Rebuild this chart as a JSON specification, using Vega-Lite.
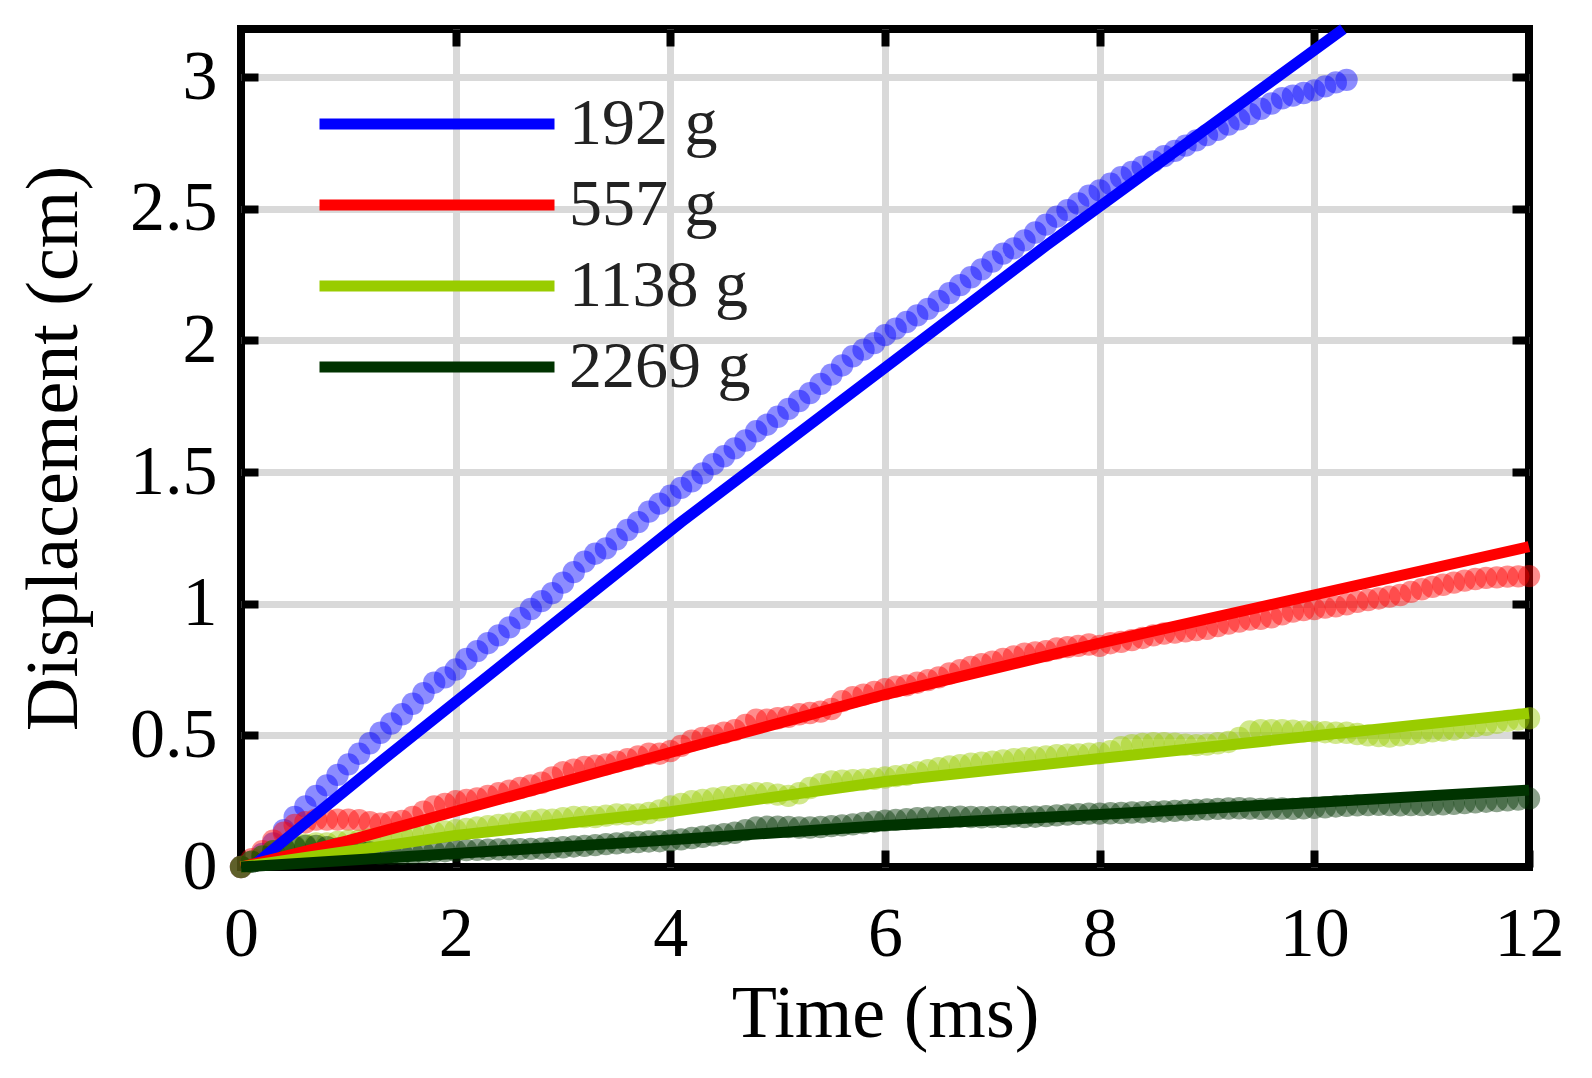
{
  "$schema": "https://vega.github.io/schema/vega-lite/v6.json",
  "width": 1288,
  "height": 838,
  "autosize": {"type": "none"},
  "padding": {"left": 241, "top": 29, "right": 63, "bottom": 211},
  "background": "white",
  "config": {
    "view": {"stroke": "black", "strokeWidth": 8},
    "font": "Liberation Serif",
    "legend": {
      "orient": "none", "legendX": 73, "legendY": 62, "title": null,
      "symbolType": "stroke", "symbolSize": 55225, "symbolStrokeWidth": 11, "symbolOpacity": 1,
      "labelFont": "Liberation Serif", "labelFontSize": 66, "labelColor": "#222222",
      "labelOffset": 9, "labelLimit": 0, "rowPadding": 15, "padding": 0, "clipHeight": 66
    }
  },
  "datasets": {
    "pts": [
      {"m":"192 g","t":0.0,"d":0.0},{"m":"192 g","t":0.1,"d":0.02},{"m":"192 g","t":0.2,"d":0.05},{"m":"192 g","t":0.3,"d":0.09},{"m":"192 g","t":0.4,"d":0.14},{"m":"192 g","t":0.5,"d":0.19},{"m":"192 g","t":0.6,"d":0.23},{"m":"192 g","t":0.7,"d":0.27},{"m":"192 g","t":0.8,"d":0.31},{"m":"192 g","t":0.9,"d":0.35},
      {"m":"192 g","t":1.0,"d":0.39},{"m":"192 g","t":1.1,"d":0.43},{"m":"192 g","t":1.2,"d":0.47},{"m":"192 g","t":1.3,"d":0.51},{"m":"192 g","t":1.4,"d":0.545},{"m":"192 g","t":1.5,"d":0.58},{"m":"192 g","t":1.6,"d":0.62},{"m":"192 g","t":1.7,"d":0.66},{"m":"192 g","t":1.8,"d":0.7},{"m":"192 g","t":1.9,"d":0.72},
      {"m":"192 g","t":2.0,"d":0.75},{"m":"192 g","t":2.1,"d":0.79},{"m":"192 g","t":2.2,"d":0.82},{"m":"192 g","t":2.3,"d":0.85},{"m":"192 g","t":2.4,"d":0.88},{"m":"192 g","t":2.5,"d":0.91},{"m":"192 g","t":2.6,"d":0.945},{"m":"192 g","t":2.7,"d":0.98},{"m":"192 g","t":2.8,"d":1.01},{"m":"192 g","t":2.9,"d":1.04},
      {"m":"192 g","t":3.0,"d":1.08},{"m":"192 g","t":3.1,"d":1.12},{"m":"192 g","t":3.2,"d":1.16},{"m":"192 g","t":3.3,"d":1.19},{"m":"192 g","t":3.4,"d":1.21},{"m":"192 g","t":3.5,"d":1.245},{"m":"192 g","t":3.6,"d":1.28},{"m":"192 g","t":3.7,"d":1.31},{"m":"192 g","t":3.8,"d":1.35},{"m":"192 g","t":3.9,"d":1.38},
      {"m":"192 g","t":4.0,"d":1.41},{"m":"192 g","t":4.1,"d":1.44},{"m":"192 g","t":4.2,"d":1.465},{"m":"192 g","t":4.3,"d":1.495},{"m":"192 g","t":4.4,"d":1.53},{"m":"192 g","t":4.5,"d":1.56},{"m":"192 g","t":4.6,"d":1.59},{"m":"192 g","t":4.7,"d":1.62},{"m":"192 g","t":4.8,"d":1.655},{"m":"192 g","t":4.9,"d":1.68},
      {"m":"192 g","t":5.0,"d":1.71},{"m":"192 g","t":5.1,"d":1.74},{"m":"192 g","t":5.2,"d":1.77},{"m":"192 g","t":5.3,"d":1.8},{"m":"192 g","t":5.4,"d":1.835},{"m":"192 g","t":5.5,"d":1.87},{"m":"192 g","t":5.6,"d":1.905},{"m":"192 g","t":5.7,"d":1.94},{"m":"192 g","t":5.8,"d":1.965},{"m":"192 g","t":5.9,"d":1.99},
      {"m":"192 g","t":6.0,"d":2.02},{"m":"192 g","t":6.1,"d":2.045},{"m":"192 g","t":6.2,"d":2.07},{"m":"192 g","t":6.3,"d":2.095},{"m":"192 g","t":6.4,"d":2.12},{"m":"192 g","t":6.5,"d":2.15},{"m":"192 g","t":6.6,"d":2.18},{"m":"192 g","t":6.7,"d":2.21},{"m":"192 g","t":6.8,"d":2.24},{"m":"192 g","t":6.9,"d":2.27},
      {"m":"192 g","t":7.0,"d":2.3},{"m":"192 g","t":7.1,"d":2.33},{"m":"192 g","t":7.2,"d":2.35},{"m":"192 g","t":7.3,"d":2.38},{"m":"192 g","t":7.4,"d":2.41},{"m":"192 g","t":7.5,"d":2.44},{"m":"192 g","t":7.6,"d":2.47},{"m":"192 g","t":7.7,"d":2.495},{"m":"192 g","t":7.8,"d":2.52},{"m":"192 g","t":7.9,"d":2.55},
      {"m":"192 g","t":8.0,"d":2.57},{"m":"192 g","t":8.1,"d":2.595},{"m":"192 g","t":8.2,"d":2.62},{"m":"192 g","t":8.3,"d":2.64},{"m":"192 g","t":8.4,"d":2.66},{"m":"192 g","t":8.5,"d":2.68},{"m":"192 g","t":8.6,"d":2.7},{"m":"192 g","t":8.7,"d":2.72},{"m":"192 g","t":8.8,"d":2.74},{"m":"192 g","t":8.9,"d":2.76},
      {"m":"192 g","t":9.0,"d":2.78},{"m":"192 g","t":9.1,"d":2.8},{"m":"192 g","t":9.2,"d":2.82},{"m":"192 g","t":9.3,"d":2.84},{"m":"192 g","t":9.4,"d":2.86},{"m":"192 g","t":9.5,"d":2.88},{"m":"192 g","t":9.6,"d":2.9},{"m":"192 g","t":9.7,"d":2.92},{"m":"192 g","t":9.8,"d":2.93},{"m":"192 g","t":9.9,"d":2.94},
      {"m":"192 g","t":10.0,"d":2.95},{"m":"192 g","t":10.1,"d":2.965},{"m":"192 g","t":10.2,"d":2.98},{"m":"192 g","t":10.3,"d":2.99},

      {"m":"557 g","t":0.0,"d":0.0},{"m":"557 g","t":0.1,"d":0.03},{"m":"557 g","t":0.2,"d":0.06},{"m":"557 g","t":0.3,"d":0.1},{"m":"557 g","t":0.4,"d":0.13},{"m":"557 g","t":0.5,"d":0.16},{"m":"557 g","t":0.6,"d":0.17},{"m":"557 g","t":0.7,"d":0.18},{"m":"557 g","t":0.8,"d":0.18},{"m":"557 g","t":0.9,"d":0.18},
      {"m":"557 g","t":1.0,"d":0.18},{"m":"557 g","t":1.1,"d":0.178},{"m":"557 g","t":1.2,"d":0.17},{"m":"557 g","t":1.3,"d":0.165},{"m":"557 g","t":1.4,"d":0.17},{"m":"557 g","t":1.5,"d":0.175},{"m":"557 g","t":1.6,"d":0.19},{"m":"557 g","t":1.7,"d":0.21},{"m":"557 g","t":1.8,"d":0.23},{"m":"557 g","t":1.9,"d":0.24},
      {"m":"557 g","t":2.0,"d":0.25},{"m":"557 g","t":2.1,"d":0.255},{"m":"557 g","t":2.2,"d":0.26},{"m":"557 g","t":2.3,"d":0.27},{"m":"557 g","t":2.4,"d":0.28},{"m":"557 g","t":2.5,"d":0.29},{"m":"557 g","t":2.6,"d":0.3},{"m":"557 g","t":2.7,"d":0.31},{"m":"557 g","t":2.8,"d":0.32},{"m":"557 g","t":2.9,"d":0.34},
      {"m":"557 g","t":3.0,"d":0.36},{"m":"557 g","t":3.1,"d":0.37},{"m":"557 g","t":3.2,"d":0.38},{"m":"557 g","t":3.3,"d":0.385},{"m":"557 g","t":3.4,"d":0.39},{"m":"557 g","t":3.5,"d":0.4},{"m":"557 g","t":3.6,"d":0.41},{"m":"557 g","t":3.7,"d":0.42},{"m":"557 g","t":3.8,"d":0.43},{"m":"557 g","t":3.9,"d":0.43},
      {"m":"557 g","t":4.0,"d":0.44},{"m":"557 g","t":4.1,"d":0.46},{"m":"557 g","t":4.2,"d":0.48},{"m":"557 g","t":4.3,"d":0.49},{"m":"557 g","t":4.4,"d":0.5},{"m":"557 g","t":4.5,"d":0.51},{"m":"557 g","t":4.6,"d":0.52},{"m":"557 g","t":4.7,"d":0.54},{"m":"557 g","t":4.8,"d":0.56},{"m":"557 g","t":4.9,"d":0.56},
      {"m":"557 g","t":5.0,"d":0.565},{"m":"557 g","t":5.1,"d":0.57},{"m":"557 g","t":5.2,"d":0.58},{"m":"557 g","t":5.3,"d":0.585},{"m":"557 g","t":5.4,"d":0.59},{"m":"557 g","t":5.5,"d":0.6},{"m":"557 g","t":5.6,"d":0.63},{"m":"557 g","t":5.7,"d":0.645},{"m":"557 g","t":5.8,"d":0.655},{"m":"557 g","t":5.9,"d":0.665},
      {"m":"557 g","t":6.0,"d":0.675},{"m":"557 g","t":6.1,"d":0.685},{"m":"557 g","t":6.2,"d":0.69},{"m":"557 g","t":6.3,"d":0.7},{"m":"557 g","t":6.4,"d":0.71},{"m":"557 g","t":6.5,"d":0.72},{"m":"557 g","t":6.6,"d":0.735},{"m":"557 g","t":6.7,"d":0.748},{"m":"557 g","t":6.8,"d":0.76},{"m":"557 g","t":6.9,"d":0.77},
      {"m":"557 g","t":7.0,"d":0.78},{"m":"557 g","t":7.1,"d":0.79},{"m":"557 g","t":7.2,"d":0.8},{"m":"557 g","t":7.3,"d":0.81},{"m":"557 g","t":7.4,"d":0.815},{"m":"557 g","t":7.5,"d":0.82},{"m":"557 g","t":7.6,"d":0.83},{"m":"557 g","t":7.7,"d":0.835},{"m":"557 g","t":7.8,"d":0.84},{"m":"557 g","t":7.9,"d":0.845},
      {"m":"557 g","t":8.0,"d":0.84},{"m":"557 g","t":8.1,"d":0.85},{"m":"557 g","t":8.2,"d":0.855},{"m":"557 g","t":8.3,"d":0.862},{"m":"557 g","t":8.4,"d":0.87},{"m":"557 g","t":8.5,"d":0.88},{"m":"557 g","t":8.6,"d":0.887},{"m":"557 g","t":8.7,"d":0.89},{"m":"557 g","t":8.8,"d":0.895},{"m":"557 g","t":8.9,"d":0.9},
      {"m":"557 g","t":9.0,"d":0.905},{"m":"557 g","t":9.1,"d":0.915},{"m":"557 g","t":9.2,"d":0.925},{"m":"557 g","t":9.3,"d":0.932},{"m":"557 g","t":9.4,"d":0.94},{"m":"557 g","t":9.5,"d":0.943},{"m":"557 g","t":9.6,"d":0.948},{"m":"557 g","t":9.7,"d":0.96},{"m":"557 g","t":9.8,"d":0.97},{"m":"557 g","t":9.9,"d":0.976},
      {"m":"557 g","t":10.0,"d":0.98},{"m":"557 g","t":10.1,"d":0.985},{"m":"557 g","t":10.2,"d":0.99},{"m":"557 g","t":10.3,"d":0.998},{"m":"557 g","t":10.4,"d":1.007},{"m":"557 g","t":10.5,"d":1.014},{"m":"557 g","t":10.6,"d":1.02},{"m":"557 g","t":10.7,"d":1.027},{"m":"557 g","t":10.8,"d":1.033},{"m":"557 g","t":10.9,"d":1.045},
      {"m":"557 g","t":11.0,"d":1.055},{"m":"557 g","t":11.1,"d":1.064},{"m":"557 g","t":11.2,"d":1.072},{"m":"557 g","t":11.3,"d":1.08},{"m":"557 g","t":11.4,"d":1.088},{"m":"557 g","t":11.5,"d":1.094},{"m":"557 g","t":11.6,"d":1.098},{"m":"557 g","t":11.7,"d":1.1},{"m":"557 g","t":11.8,"d":1.103},{"m":"557 g","t":11.9,"d":1.104},{"m":"557 g","t":12.0,"d":1.105},

      {"m":"1138 g","t":0.0,"d":0.0},{"m":"1138 g","t":0.1,"d":0.02},{"m":"1138 g","t":0.2,"d":0.04},{"m":"1138 g","t":0.3,"d":0.06},{"m":"1138 g","t":0.4,"d":0.07},{"m":"1138 g","t":0.5,"d":0.08},{"m":"1138 g","t":0.6,"d":0.085},{"m":"1138 g","t":0.7,"d":0.09},{"m":"1138 g","t":0.8,"d":0.09},{"m":"1138 g","t":0.9,"d":0.095},
      {"m":"1138 g","t":1.0,"d":0.1},{"m":"1138 g","t":1.1,"d":0.1},{"m":"1138 g","t":1.2,"d":0.105},{"m":"1138 g","t":1.3,"d":0.11},{"m":"1138 g","t":1.4,"d":0.115},{"m":"1138 g","t":1.5,"d":0.12},{"m":"1138 g","t":1.6,"d":0.122},{"m":"1138 g","t":1.7,"d":0.125},{"m":"1138 g","t":1.8,"d":0.13},{"m":"1138 g","t":1.9,"d":0.135},
      {"m":"1138 g","t":2.0,"d":0.14},{"m":"1138 g","t":2.1,"d":0.145},{"m":"1138 g","t":2.2,"d":0.15},{"m":"1138 g","t":2.3,"d":0.155},{"m":"1138 g","t":2.4,"d":0.16},{"m":"1138 g","t":2.5,"d":0.165},{"m":"1138 g","t":2.6,"d":0.17},{"m":"1138 g","t":2.7,"d":0.175},{"m":"1138 g","t":2.8,"d":0.18},{"m":"1138 g","t":2.9,"d":0.18},
      {"m":"1138 g","t":3.0,"d":0.185},{"m":"1138 g","t":3.1,"d":0.19},{"m":"1138 g","t":3.2,"d":0.19},{"m":"1138 g","t":3.3,"d":0.19},{"m":"1138 g","t":3.4,"d":0.195},{"m":"1138 g","t":3.5,"d":0.2},{"m":"1138 g","t":3.6,"d":0.2},{"m":"1138 g","t":3.7,"d":0.2},{"m":"1138 g","t":3.8,"d":0.205},{"m":"1138 g","t":3.9,"d":0.215},
      {"m":"1138 g","t":4.0,"d":0.23},{"m":"1138 g","t":4.1,"d":0.24},{"m":"1138 g","t":4.2,"d":0.25},{"m":"1138 g","t":4.3,"d":0.255},{"m":"1138 g","t":4.4,"d":0.26},{"m":"1138 g","t":4.5,"d":0.265},{"m":"1138 g","t":4.6,"d":0.27},{"m":"1138 g","t":4.7,"d":0.275},{"m":"1138 g","t":4.8,"d":0.28},{"m":"1138 g","t":4.9,"d":0.28},
      {"m":"1138 g","t":5.0,"d":0.275},{"m":"1138 g","t":5.1,"d":0.27},{"m":"1138 g","t":5.2,"d":0.28},{"m":"1138 g","t":5.3,"d":0.3},{"m":"1138 g","t":5.4,"d":0.315},{"m":"1138 g","t":5.5,"d":0.325},{"m":"1138 g","t":5.6,"d":0.328},{"m":"1138 g","t":5.7,"d":0.33},{"m":"1138 g","t":5.8,"d":0.332},{"m":"1138 g","t":5.9,"d":0.335},
      {"m":"1138 g","t":6.0,"d":0.34},{"m":"1138 g","t":6.1,"d":0.345},{"m":"1138 g","t":6.2,"d":0.35},{"m":"1138 g","t":6.3,"d":0.36},{"m":"1138 g","t":6.4,"d":0.368},{"m":"1138 g","t":6.5,"d":0.375},{"m":"1138 g","t":6.6,"d":0.382},{"m":"1138 g","t":6.7,"d":0.387},{"m":"1138 g","t":6.8,"d":0.392},{"m":"1138 g","t":6.9,"d":0.396},
      {"m":"1138 g","t":7.0,"d":0.4},{"m":"1138 g","t":7.1,"d":0.405},{"m":"1138 g","t":7.2,"d":0.41},{"m":"1138 g","t":7.3,"d":0.413},{"m":"1138 g","t":7.4,"d":0.416},{"m":"1138 g","t":7.5,"d":0.42},{"m":"1138 g","t":7.6,"d":0.425},{"m":"1138 g","t":7.7,"d":0.427},{"m":"1138 g","t":7.8,"d":0.428},{"m":"1138 g","t":7.9,"d":0.43},
      {"m":"1138 g","t":8.0,"d":0.432},{"m":"1138 g","t":8.1,"d":0.44},{"m":"1138 g","t":8.2,"d":0.455},{"m":"1138 g","t":8.3,"d":0.463},{"m":"1138 g","t":8.4,"d":0.467},{"m":"1138 g","t":8.5,"d":0.47},{"m":"1138 g","t":8.6,"d":0.47},{"m":"1138 g","t":8.7,"d":0.468},{"m":"1138 g","t":8.8,"d":0.465},{"m":"1138 g","t":8.9,"d":0.463},
      {"m":"1138 g","t":9.0,"d":0.465},{"m":"1138 g","t":9.1,"d":0.47},{"m":"1138 g","t":9.2,"d":0.475},{"m":"1138 g","t":9.3,"d":0.49},{"m":"1138 g","t":9.4,"d":0.515},{"m":"1138 g","t":9.5,"d":0.52},{"m":"1138 g","t":9.6,"d":0.52},{"m":"1138 g","t":9.7,"d":0.52},{"m":"1138 g","t":9.8,"d":0.518},{"m":"1138 g","t":9.9,"d":0.515},
      {"m":"1138 g","t":10.0,"d":0.514},{"m":"1138 g","t":10.1,"d":0.512},{"m":"1138 g","t":10.2,"d":0.51},{"m":"1138 g","t":10.3,"d":0.51},{"m":"1138 g","t":10.4,"d":0.505},{"m":"1138 g","t":10.5,"d":0.5},{"m":"1138 g","t":10.6,"d":0.497},{"m":"1138 g","t":10.7,"d":0.495},{"m":"1138 g","t":10.8,"d":0.5},{"m":"1138 g","t":10.9,"d":0.505},
      {"m":"1138 g","t":11.0,"d":0.51},{"m":"1138 g","t":11.1,"d":0.515},{"m":"1138 g","t":11.2,"d":0.518},{"m":"1138 g","t":11.3,"d":0.522},{"m":"1138 g","t":11.4,"d":0.528},{"m":"1138 g","t":11.5,"d":0.535},{"m":"1138 g","t":11.6,"d":0.54},{"m":"1138 g","t":11.7,"d":0.548},{"m":"1138 g","t":11.8,"d":0.555},{"m":"1138 g","t":11.9,"d":0.56},{"m":"1138 g","t":12.0,"d":0.565},

      {"m":"2269 g","t":0.0,"d":0.0},{"m":"2269 g","t":0.1,"d":0.02},{"m":"2269 g","t":0.2,"d":0.04},{"m":"2269 g","t":0.3,"d":0.06},{"m":"2269 g","t":0.4,"d":0.07},{"m":"2269 g","t":0.5,"d":0.075},{"m":"2269 g","t":0.6,"d":0.08},{"m":"2269 g","t":0.7,"d":0.08},{"m":"2269 g","t":0.8,"d":0.075},{"m":"2269 g","t":0.9,"d":0.07},
      {"m":"2269 g","t":1.0,"d":0.065},{"m":"2269 g","t":1.1,"d":0.06},{"m":"2269 g","t":1.2,"d":0.055},{"m":"2269 g","t":1.3,"d":0.05},{"m":"2269 g","t":1.4,"d":0.05},{"m":"2269 g","t":1.5,"d":0.05},{"m":"2269 g","t":1.6,"d":0.052},{"m":"2269 g","t":1.7,"d":0.055},{"m":"2269 g","t":1.8,"d":0.058},{"m":"2269 g","t":1.9,"d":0.06},
      {"m":"2269 g","t":2.0,"d":0.062},{"m":"2269 g","t":2.1,"d":0.064},{"m":"2269 g","t":2.2,"d":0.065},{"m":"2269 g","t":2.3,"d":0.066},{"m":"2269 g","t":2.4,"d":0.067},{"m":"2269 g","t":2.5,"d":0.068},{"m":"2269 g","t":2.6,"d":0.068},{"m":"2269 g","t":2.7,"d":0.069},{"m":"2269 g","t":2.8,"d":0.07},{"m":"2269 g","t":2.9,"d":0.072},
      {"m":"2269 g","t":3.0,"d":0.075},{"m":"2269 g","t":3.1,"d":0.078},{"m":"2269 g","t":3.2,"d":0.08},{"m":"2269 g","t":3.3,"d":0.083},{"m":"2269 g","t":3.4,"d":0.087},{"m":"2269 g","t":3.5,"d":0.09},{"m":"2269 g","t":3.6,"d":0.093},{"m":"2269 g","t":3.7,"d":0.095},{"m":"2269 g","t":3.8,"d":0.097},{"m":"2269 g","t":3.9,"d":0.098},
      {"m":"2269 g","t":4.0,"d":0.1},{"m":"2269 g","t":4.1,"d":0.105},{"m":"2269 g","t":4.2,"d":0.11},{"m":"2269 g","t":4.3,"d":0.115},{"m":"2269 g","t":4.4,"d":0.12},{"m":"2269 g","t":4.5,"d":0.125},{"m":"2269 g","t":4.6,"d":0.13},{"m":"2269 g","t":4.7,"d":0.14},{"m":"2269 g","t":4.8,"d":0.15},{"m":"2269 g","t":4.9,"d":0.153},
      {"m":"2269 g","t":5.0,"d":0.153},{"m":"2269 g","t":5.1,"d":0.152},{"m":"2269 g","t":5.2,"d":0.15},{"m":"2269 g","t":5.3,"d":0.15},{"m":"2269 g","t":5.4,"d":0.152},{"m":"2269 g","t":5.5,"d":0.155},{"m":"2269 g","t":5.6,"d":0.158},{"m":"2269 g","t":5.7,"d":0.162},{"m":"2269 g","t":5.8,"d":0.167},{"m":"2269 g","t":5.9,"d":0.172},
      {"m":"2269 g","t":6.0,"d":0.176},{"m":"2269 g","t":6.1,"d":0.179},{"m":"2269 g","t":6.2,"d":0.182},{"m":"2269 g","t":6.3,"d":0.185},{"m":"2269 g","t":6.4,"d":0.187},{"m":"2269 g","t":6.5,"d":0.189},{"m":"2269 g","t":6.6,"d":0.19},{"m":"2269 g","t":6.7,"d":0.191},{"m":"2269 g","t":6.8,"d":0.19},{"m":"2269 g","t":6.9,"d":0.189},
      {"m":"2269 g","t":7.0,"d":0.19},{"m":"2269 g","t":7.1,"d":0.19},{"m":"2269 g","t":7.2,"d":0.191},{"m":"2269 g","t":7.3,"d":0.19},{"m":"2269 g","t":7.4,"d":0.191},{"m":"2269 g","t":7.5,"d":0.193},{"m":"2269 g","t":7.6,"d":0.196},{"m":"2269 g","t":7.7,"d":0.199},{"m":"2269 g","t":7.8,"d":0.201},{"m":"2269 g","t":7.9,"d":0.203},
      {"m":"2269 g","t":8.0,"d":0.203},{"m":"2269 g","t":8.1,"d":0.204},{"m":"2269 g","t":8.2,"d":0.205},{"m":"2269 g","t":8.3,"d":0.207},{"m":"2269 g","t":8.4,"d":0.208},{"m":"2269 g","t":8.5,"d":0.21},{"m":"2269 g","t":8.6,"d":0.211},{"m":"2269 g","t":8.7,"d":0.213},{"m":"2269 g","t":8.8,"d":0.215},{"m":"2269 g","t":8.9,"d":0.217},
      {"m":"2269 g","t":9.0,"d":0.219},{"m":"2269 g","t":9.1,"d":0.221},{"m":"2269 g","t":9.2,"d":0.222},{"m":"2269 g","t":9.3,"d":0.223},{"m":"2269 g","t":9.4,"d":0.222},{"m":"2269 g","t":9.5,"d":0.221},{"m":"2269 g","t":9.6,"d":0.222},{"m":"2269 g","t":9.7,"d":0.222},{"m":"2269 g","t":9.8,"d":0.221},{"m":"2269 g","t":9.9,"d":0.223},
      {"m":"2269 g","t":10.0,"d":0.225},{"m":"2269 g","t":10.1,"d":0.227},{"m":"2269 g","t":10.2,"d":0.23},{"m":"2269 g","t":10.3,"d":0.232},{"m":"2269 g","t":10.4,"d":0.234},{"m":"2269 g","t":10.5,"d":0.235},{"m":"2269 g","t":10.6,"d":0.236},{"m":"2269 g","t":10.7,"d":0.235},{"m":"2269 g","t":10.8,"d":0.234},{"m":"2269 g","t":10.9,"d":0.235},
      {"m":"2269 g","t":11.0,"d":0.235},{"m":"2269 g","t":11.1,"d":0.236},{"m":"2269 g","t":11.2,"d":0.238},{"m":"2269 g","t":11.3,"d":0.24},{"m":"2269 g","t":11.4,"d":0.243},{"m":"2269 g","t":11.5,"d":0.246},{"m":"2269 g","t":11.6,"d":0.248},{"m":"2269 g","t":11.7,"d":0.25},{"m":"2269 g","t":11.8,"d":0.253},{"m":"2269 g","t":11.9,"d":0.256},{"m":"2269 g","t":12.0,"d":0.26}
    ],
    "fits": [
      {"m":"192 g","t":0.1,"d":0.0},{"m":"192 g","t":1.3,"d":0.4},{"m":"192 g","t":4.1,"d":1.31},{"m":"192 g","t":7.5,"d":2.36},{"m":"192 g","t":10.27,"d":3.183},
      {"m":"557 g","t":0.0,"d":0.0},{"m":"557 g","t":1.0,"d":0.1},{"m":"557 g","t":4.0,"d":0.435},{"m":"557 g","t":6.0,"d":0.655},{"m":"557 g","t":8.0,"d":0.85},{"m":"557 g","t":12.0,"d":1.217},
      {"m":"1138 g","t":0.0,"d":0.0},{"m":"1138 g","t":2.0,"d":0.12},{"m":"1138 g","t":4.0,"d":0.21},{"m":"1138 g","t":6.0,"d":0.325},{"m":"1138 g","t":8.0,"d":0.412},{"m":"1138 g","t":12.0,"d":0.584},
      {"m":"2269 g","t":0.0,"d":0.0},{"m":"2269 g","t":4.0,"d":0.103},{"m":"2269 g","t":6.0,"d":0.158},{"m":"2269 g","t":8.0,"d":0.199},{"m":"2269 g","t":12.0,"d":0.292}
    ]
  },
  "layer": [
    {
      "data": {"name": "pts"},
      "mark": {"type": "circle", "size": 500, "opacity": 0.45},
      "encoding": {
        "x": {
          "field": "t", "type": "quantitative",
          "scale": {"domain": [0, 12], "nice": false, "zero": false},
          "axis": {
            "orient": "bottom", "values": [0, 2, 4, 6, 8, 10, 12], "grid": false, "domain": false,
            "tickSize": -17, "tickWidth": 8, "tickColor": "black",
            "labelFont": "Liberation Serif", "labelFontSize": 70, "labelColor": "black",
            "labelPadding": 50, "labelFlush": false, "labelOverlap": false, "labelBound": false,
            "labelExpr": "'' + datum.value",
            "title": "Time (ms)", "titleFont": "Liberation Serif", "titleFontSize": 74,
            "titleFontWeight": "normal", "titleColor": "black", "titleBaseline": "alphabetic", "titleY": 169
          }
        },
        "y": {
          "field": "d", "type": "quantitative",
          "scale": {"domain": [0, 3.183], "nice": false, "zero": false},
          "axis": {
            "orient": "left", "values": [0, 0.5, 1, 1.5, 2, 2.5, 3], "grid": false, "domain": false,
            "tickSize": -17, "tickWidth": 8, "tickColor": "black",
            "labelFont": "Liberation Serif", "labelFontSize": 70, "labelColor": "black",
            "labelPadding": 41, "labelFlush": false, "labelOverlap": false, "labelBound": false,
            "labelExpr": "'' + datum.value",
            "title": "Displacement (cm)", "titleFont": "Liberation Serif", "titleFontSize": 74,
            "titleFontWeight": "normal", "titleColor": "black", "titleBaseline": "alphabetic", "titleX": -165
          }
        },
        "color": {
          "field": "m", "type": "nominal",
          "scale": {"domain": ["192 g", "557 g", "1138 g", "2269 g"], "range": ["#0000ff", "#ff0000", "#99cc00", "#003300"]},
          "legend": {"symbolType": "stroke"}
        }
      }
    },
    {
      "data": {"name": "fits"},
      "mark": {"type": "line", "strokeWidth": 11},
      "encoding": {
        "x": {
          "field": "t", "type": "quantitative",
          "scale": {"domain": [0, 12], "nice": false, "zero": false},
          "axis": {
            "orient": "top", "values": [2, 4, 6, 8, 10], "grid": true, "gridColor": "#d9d9d9", "gridWidth": 7, "gridOpacity": 1,
            "domain": false, "labels": false, "tickSize": -17, "tickWidth": 8, "tickColor": "black", "title": null
          }
        },
        "y": {
          "field": "d", "type": "quantitative",
          "scale": {"domain": [0, 3.183], "nice": false, "zero": false},
          "axis": {
            "orient": "right", "values": [0.5, 1, 1.5, 2, 2.5, 3], "grid": true, "gridColor": "#d9d9d9", "gridWidth": 7, "gridOpacity": 1,
            "domain": false, "labels": false, "tickSize": -17, "tickWidth": 8, "tickColor": "black", "title": null
          }
        },
        "color": {
          "field": "m", "type": "nominal",
          "scale": {"domain": ["192 g", "557 g", "1138 g", "2269 g"], "range": ["#0000ff", "#ff0000", "#99cc00", "#003300"]},
          "legend": {"symbolType": "stroke"}
        }
      }
    }
  ],
  "resolve": {"axis": {"x": "independent", "y": "independent"}}
}
